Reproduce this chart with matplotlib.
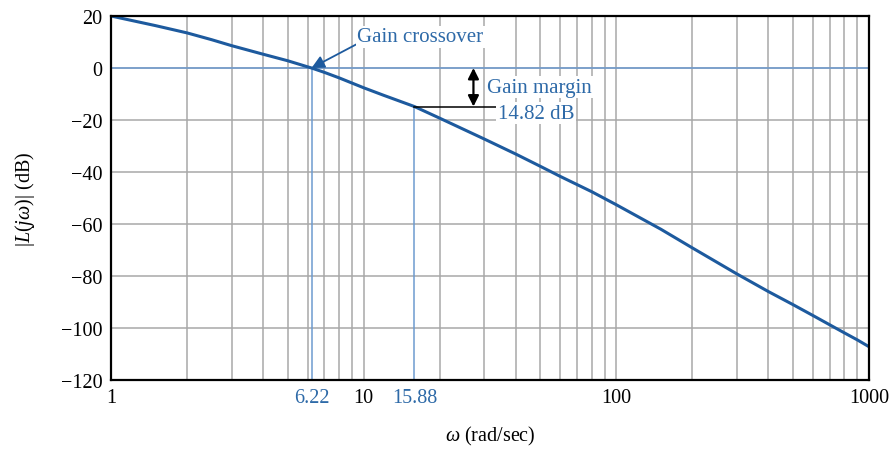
import matplotlib
matplotlib.use("Agg")
import matplotlib.pyplot as plt

plt.rcParams["font.family"] = ["Liberation Serif", "DejaVu Serif"]
plt.rcParams["mathtext.fontset"] = "custom"
plt.rcParams["mathtext.rm"] = "Liberation Serif"
plt.rcParams["mathtext.it"] = "Liberation Serif:italic"
plt.rcParams["axes.unicode_minus"] = True

# Loop magnitude |L(jw)| in dB
omega = [1, 1.5, 2, 2.5, 3, 4, 5, 6, 6.22, 7, 8, 10, 12, 15.88, 20, 30, 40,
         50, 60, 80, 100, 150, 200, 300, 400, 500, 600, 700, 800, 900, 1000]
mag_db = [20, 16.3, 13.5, 10.9, 8.6, 5.3, 2.8, 0.45, 0, -1.7, -3.8, -7.6,
          -10.5, -14.82, -19.3, -27.3, -33.1, -37.8, -41.7, -47.6, -52.6,
          -62.0, -69.2, -79.2, -86.0, -91.0, -95.2, -98.8, -101.9, -104.6,
          -107.2]

w_gc = 6.22          # gain crossover frequency
w_pc = 15.88         # phase crossover frequency
gain_margin = 14.82  # dB

y_ticks = [20, 0, -20, -40, -60, -80, -100, -120]
x_ticks = [1, w_gc, 10, w_pc, 100, 1000]
x_tick_labels = ["1", "6.22", "10", "15.88", "100", "1000"]

curve_blue = "#1d5a9e"
text_blue = "#2e6aa8"
line_blue = "#6d9bd0"
grid_gray = "#a8a8a8"

fig = plt.figure(figsize=(8.92, 4.52), dpi=100)
ax = fig.add_axes([0.1244, 0.1571, 0.8498, 0.8053])

ax.set_xscale("log")
ax.set_xlim(1, 1000)
ax.set_ylim(-120, 20)

# grid: decades plus 2..9 subdivisions, every 20 dB vertically
for dec in [1, 10, 100]:
    for k in range(1, 10):
        x = dec * k
        if 1 < x < 1000:
            ax.axvline(x, color=grid_gray, lw=1.1, zorder=1)
for y in y_ticks:
    if -120 < y < 20:
        ax.axhline(y, color=grid_gray, lw=1.1, zorder=1)

# 0 dB reference and crossover markers
ax.axhline(0, color=line_blue, lw=1.1, zorder=2)
ax.plot([w_gc, w_gc], [-120, 0], color=line_blue, lw=1.1, zorder=2)
ax.plot([w_pc, w_pc], [-120, -gain_margin], color=line_blue, lw=1.1, zorder=2)

# magnitude curve
ax.plot(omega, mag_db, color=curve_blue, lw=2.2, zorder=4,
        solid_capstyle="butt", solid_joinstyle="round")

# gain crossover annotation
ax.annotate("", xy=(w_gc, 0), xytext=(9.4, 9.2),
            arrowprops=dict(arrowstyle="-|>", color=curve_blue, lw=1.3,
                            mutation_scale=19, shrinkA=0, shrinkB=0),
            zorder=5)
ax.text(9.45, 12.0, "Gain crossover", color=text_blue, fontsize=15,
        ha="left", va="center", zorder=6,
        bbox=dict(facecolor="white", edgecolor="none", pad=1.0))

# gain margin annotation
ax.plot([w_pc, 33.7], [-gain_margin, -gain_margin], color="black", lw=1.1,
        zorder=5)
ax.annotate("", xy=(27.2, 0), xytext=(27.2, -gain_margin),
            arrowprops=dict(arrowstyle="<|-|>", color="black", lw=1.6,
                            mutation_scale=16, shrinkA=0, shrinkB=0),
            zorder=6)
ax.text(30.8, -7.4, "Gain margin", color=text_blue, fontsize=15,
        ha="left", va="center", zorder=6,
        bbox=dict(facecolor="white", edgecolor="none", pad=1.0))
ax.text(33.9, -17.4, f"{gain_margin:.2f} dB", color=text_blue, fontsize=15,
        ha="left", va="center", zorder=6,
        bbox=dict(facecolor="white", edgecolor="none", pad=1.0))

# ticks and labels
ax.set_yticks(y_ticks)
ax.set_yticklabels([str(v).replace("-", "\u2212") for v in y_ticks])
ax.set_xticks(x_ticks)
ax.set_xticklabels(x_tick_labels)
ax.minorticks_off()
ax.tick_params(axis="both", length=0, labelsize=14.5, pad=6)
for lbl, val in zip(ax.get_xticklabels(), x_ticks):
    if val in (w_gc, w_pc):
        lbl.set_color(text_blue)

for sp in ax.spines.values():
    sp.set_color("black")
    sp.set_linewidth(1.6)
    sp.set_zorder(7)

ax.set_xlabel(r"$\omega$ (rad/sec)", fontsize=14.5, labelpad=12)
ax.set_ylabel(r"$|L(j\omega)|$ (dB)", fontsize=14.5, labelpad=17)

fig.savefig("out.png", dpi=100)
